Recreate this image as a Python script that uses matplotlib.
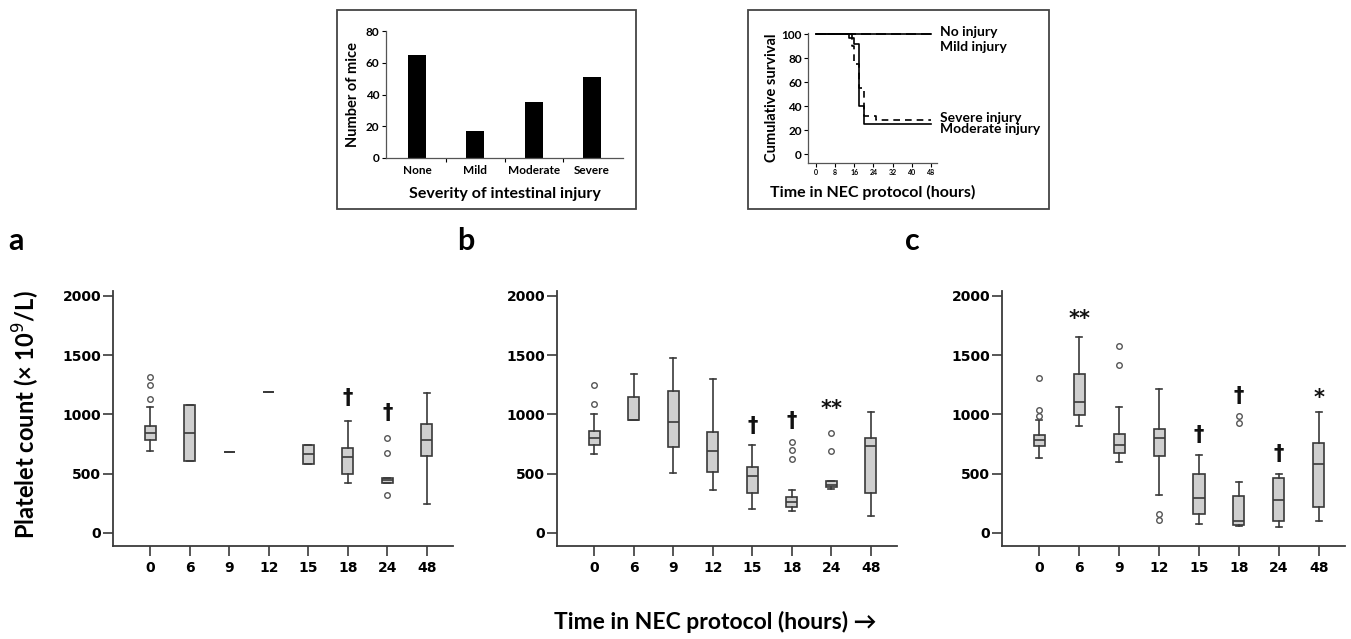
import numpy as np
import matplotlib.pyplot as plt
from matplotlib.patches import Rectangle

plt.rcParams['font.family'] = ['DejaVu Sans']

# ---- data ----
hours = ['0', '6', '9', '12', '15', '18', '24', '48']

# panel a
a_q1 = [781, 604, 685, 1185, 584, 500, 421, 652]
a_med = [843, 843, 685, 1185, 666, 638, 449, 787]
a_q3 = [904, 1081, 685, 1185, 744, 716, 463, 921]
a_lo = [694, 604, 685, 1185, 584, 421, 421, 244]
a_hi = [1062, 1081, 685, 1185, 744, 947, 463, 1180]
a_out = [[1132, 1244, 1315], [], [], [], [], [], [323, 674, 798], []]
a_marks = ['', '', '', '', '', '†', '†', '']
a_mark_y = [0, 0, 0, 0, 0, 1138, 1011, 0]

# panel b
b_q1 = [744, 950, 722, 513, 340, 223, 384, 337]
b_med = [797, 955, 939, 691, 482, 259, 404, 733]
b_q3 = [861, 1148, 1201, 847, 557, 301, 440, 797]
b_lo = [666, 950, 504, 365, 203, 184, 370, 142]
b_hi = [1006, 1340, 1471, 1298, 741, 365, 440, 1017]
b_out = [[1084, 1248], [], [], [], [], [627, 699, 766], [691, 839], []]
b_marks = ['', '', '', '', '†', '†', '**', '']
b_mark_y = [0, 0, 0, 0, 900, 947, 1045, 0]

# panel c
c_q1 = [733, 997, 677, 646, 159, 70, 98, 217]
c_med = [780, 1100, 744, 800, 298, 103, 279, 585]
c_q3 = [822, 1343, 836, 878, 501, 315, 465, 761]
c_lo = [635, 900, 602, 320, 75, 56, 47, 98]
c_hi = [955, 1649, 1064, 1217, 655, 432, 501, 1017]
c_out = [[985, 1040, 1310], [], [1415, 1577], [106, 162], [], [928, 983], [], []]
c_marks = ['', '**', '', '', '†', '†', '†', '*']
c_mark_y = [0, 1800, 0, 0, 822, 1156, 669, 1140]

# inset: severity
severity = ['None', 'Mild', 'Moderate', 'Severe']
mice = [65, 17, 35, 51]

# inset: survival
t_none = [0, 48]
s_none = [100, 100]
t_mild = [0, 48]
s_mild = [100, 100]
t_mod = [0, 14, 16, 18, 20, 48]
s_mod = [100, 97, 92, 40, 25, 25]
t_sev = [0, 15, 16, 18, 20, 25, 48]
s_sev = [100, 90, 75, 55, 32, 28, 28]

W, H = 1351, 639
fig = plt.figure(figsize=(W / 100, H / 100), dpi=100)


def fx(px):
    return px / W


def fy(py):
    return 1 - py / H


edge = '#3a3a3a'
lab_font = ['Lato', 'DejaVu Sans']


def box_panel(left, right, q1, med, q3, lo, hi, out, marks, mark_y):
    ax = fig.add_axes([fx(left), fy(546), fx(right - left), (546 - 291) / H])
    stats = [dict(q1=q1[i], med=med[i], q3=q3[i], whislo=lo[i], whishi=hi[i],
                  fliers=out[i]) for i in range(len(hours))]
    ax.bxp(stats, positions=range(len(hours)), widths=0.28, capwidths=0.15,
           patch_artist=True,
           boxprops=dict(facecolor='#cfcfcf', edgecolor=edge, linewidth=1.2),
           medianprops=dict(color=edge, linewidth=1.2),
           whiskerprops=dict(color=edge, linewidth=1.2),
           capprops=dict(color=edge, linewidth=1.2),
           flierprops=dict(marker='o', markersize=4, markerfacecolor='none',
                           markeredgecolor='#555555', markeredgewidth=1.0))
    for i, m in enumerate(marks):
        if m:
            ax.text(i, mark_y[i], m, ha='center', va='center', fontsize=15,
                    fontweight='bold', color='#111111')
    ax.set_xlim(-0.94, 7.66)
    ax.set_ylim(-110, 2040)
    ax.set_xticks(range(len(hours)))
    ax.set_xticklabels(hours)
    ax.set_yticks([0, 500, 1000, 1500, 2000])
    for s in ['top', 'right']:
        ax.spines[s].set_visible(False)
    for s in ['left', 'bottom']:
        ax.spines[s].set_color(edge)
        ax.spines[s].set_linewidth(1.3)
    ax.tick_params(axis='x', direction='out', length=7, width=1.2, color=edge,
                   pad=4, labelsize=10)
    ax.tick_params(axis='y', direction='out', length=7, width=1.2, color=edge,
                   pad=1.5, labelsize=10)
    for t in ax.get_xticklabels() + ax.get_yticklabels():
        t.set_fontweight('bold')
    return ax


box_panel(113, 453, a_q1, a_med, a_q3, a_lo, a_hi, a_out, a_marks, a_mark_y)
box_panel(557, 897, b_q1, b_med, b_q3, b_lo, b_hi, b_out, b_marks, b_mark_y)
box_panel(1002, 1345, c_q1, c_med, c_q3, c_lo, c_hi, c_out, c_marks, c_mark_y)

fig.text(fx(26), fy(415), 'Platelet count (× 10$^{9}$/L)', rotation=90,
         ha='center', va='center', fontsize=17, fontweight='bold',
         family=lab_font)
for letter, x in [('a', 8), ('b', 457), ('c', 905)]:
    fig.text(fx(x), fy(250), letter, ha='left', va='baseline', fontsize=22,
             fontweight='bold', family=lab_font)
fig.text(fx(715), fy(622), 'Time in NEC protocol (hours) →', ha='center',
         va='center', fontsize=16.5, fontweight='bold', family=lab_font)

# ---- inset 1: bar chart ----
ax1 = fig.add_axes([fx(386), fy(158), fx(623 - 386), (158 - 31) / H])
ax1.bar(range(len(severity)), mice, width=0.31, color='black')
ax1.set_xlim(-0.53, 3.53)
ax1.set_ylim(0, 80)
ax1.set_yticks([0, 20, 40, 60, 80])
ax1.set_xticks(range(len(severity)))
ax1.set_xticklabels(severity)
ax1.set_xticks([0.5, 1.5, 2.5], minor=True)
ax1.tick_params(axis='x', which='major', length=0, pad=5, labelsize=8.5)
ax1.tick_params(axis='x', which='minor', length=3, width=0.8, direction='out')
ax1.tick_params(axis='y', length=3, width=0.8, pad=2, labelsize=8.5)
for s in ['top', 'right']:
    ax1.spines[s].set_visible(False)
for s in ['left', 'bottom']:
    ax1.spines[s].set_linewidth(0.9)
    ax1.spines[s].set_color('#555555')
for t in ax1.get_xticklabels() + ax1.get_yticklabels():
    t.set_fontweight('bold')
    t.set_family(lab_font)
ax1.set_ylabel('Number of mice', fontsize=10.5, fontweight='bold',
               family=lab_font, labelpad=4)
ax1.set_xlabel('Severity of intestinal injury', fontsize=11.5, fontweight='bold',
               family=lab_font, labelpad=8)

# ---- inset 2: survival ----
ax2 = fig.add_axes([fx(808), fy(163), fx(937 - 808), (163 - 33) / H])
ax2.step(t_none, s_none, where='post', color='black', lw=1.2)
ax2.step(t_mild, s_mild, where='post', color='black', lw=1.2, ls=(0, (6, 3)))
ax2.step(t_mod, s_mod, where='post', color='black', lw=1.2)
ax2.step(t_sev, s_sev, where='post', color='black', lw=1.2, ls=(0, (4, 3)))
ax2.set_xlim(-3.3, 50.5)
ax2.set_ylim(-7.5, 101)
ax2.set_xticks(range(0, 49, 8))
ax2.set_yticks(range(0, 101, 20))
ax2.tick_params(axis='x', length=3, width=0.8, pad=1.5, labelsize=5)
ax2.tick_params(axis='y', length=3, width=0.8, pad=1.5, labelsize=8.5)
for s in ['top', 'right']:
    ax2.spines[s].set_visible(False)
for s in ['left', 'bottom']:
    ax2.spines[s].set_linewidth(0.9)
    ax2.spines[s].set_color('#555555')
for t in ax2.get_xticklabels() + ax2.get_yticklabels():
    t.set_fontweight('bold')
    t.set_family(lab_font)
ax2.set_ylabel('Cumulative survival', fontsize=10.5, fontweight='bold',
               family=lab_font, labelpad=2)
ax2.set_xlabel('Time in NEC protocol (hours)', fontsize=11.5, fontweight='bold',
               family=lab_font, labelpad=6)
for name, yv in [('No injury', 102), ('Mild injury', 89),
                 ('Severe injury', 30), ('Moderate injury', 21)]:
    ax2.text(51.8, yv, name, ha='left', va='center', fontsize=10,
             fontweight='bold', family=lab_font, clip_on=False)

for x0, x1 in [(337, 636), (748, 1049)]:
    fig.add_artist(Rectangle((fx(x0), fy(209)), fx(x1 - x0), (209 - 10) / H,
                             transform=fig.transFigure, fill=False,
                             edgecolor='#444444', linewidth=1.3))

fig.savefig('out.png', dpi=100)
